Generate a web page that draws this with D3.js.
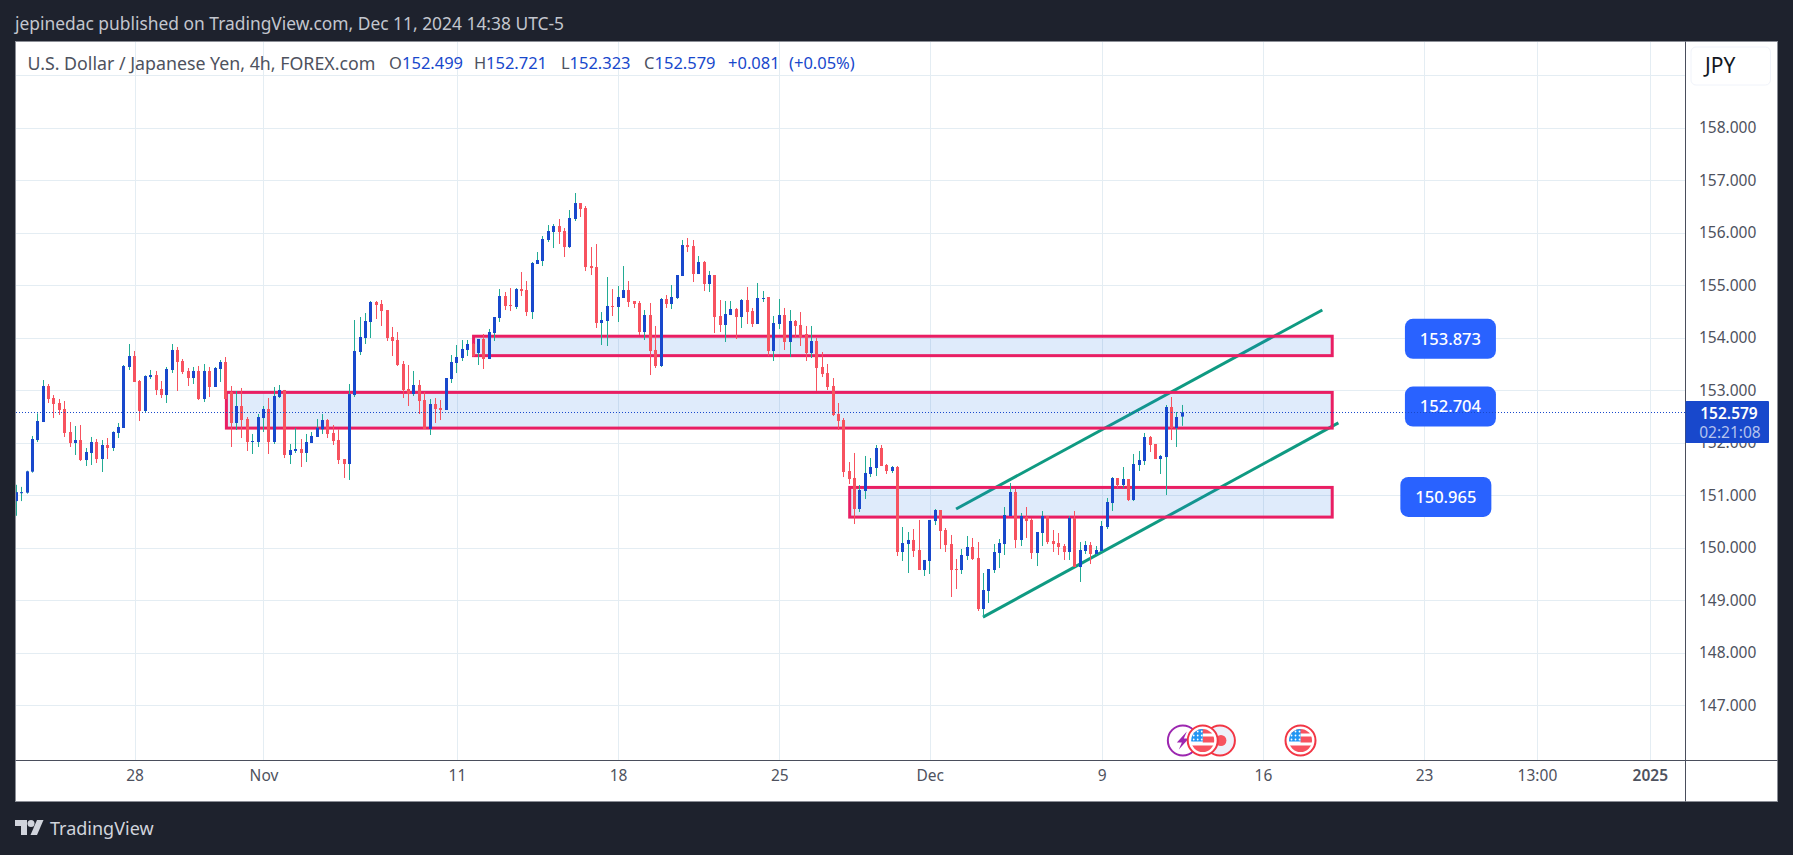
<!DOCTYPE html>
<html>
<head>
<meta charset="utf-8">
<script src="https://cdnjs.cloudflare.com/ajax/libs/d3/7.9.0/d3.min.js"></script>
<style>
  html, body { margin: 0; padding: 0; background: #1e222d; overflow: hidden; }
  text { font-family: "Noto Sans", sans-serif; }
</style>
</head>
<body>
<svg id="chart" width="1793" height="855"></svg>
<script>
// 4h candles, one entry per bar
const opens = [
  150.89,151.04,151.05,151.45,152.053,152.396,153.082,152.853,152.758,152.644,
  152.206,151.996,152.053,151.672,151.806,152.015,151.691,151.958,151.901,152.187,
  152.282,153.444,153.653,153.177,152.606,153.253,153.291,153.025,152.91,153.387,
  153.768,153.558,153.368,153.234,153.368,152.834,153.368,153.063,153.406,153.539,
  152.968,152.377,152.701,152.453,152.015,152.015,152.472,152.644,152.015,152.872,
  153.006,151.768,151.844,151.882,151.806,151.996,152.111,152.257,152.434,152.187,
  152.053,151.691,151.596,152.91,153.73,153.996,154.301,154.682,154.644,154.529,
  154.015,153.958,153.501,153.025,152.929,153.101,152.815,152.263,152.739,152.663,
  152.625,153.215,153.52,153.615,153.768,153.882,153.71,153.977,153.596,154.091,
  154.377,154.796,154.625,154.587,154.929,154.91,154.491,155.406,155.463,155.863,
  156.015,156.129,156.034,155.729,156.263,156.567,156.472,155.367,155.348,154.282,
  154.32,154.606,154.587,154.758,154.91,154.701,154.663,154.11,154.434,153.768,
  153.463,154.739,154.644,154.758,155.177,155.767,155.748,155.215,155.444,155.025,
  155.196,154.415,154.244,154.434,154.548,154.396,154.72,154.51,154.263,154.739,
  154.777,153.748,154.263,154.434,153.92,154.32,154.244,154.072,153.71,153.939,
  153.444,153.329,153.082,152.548,152.434,151.463,151.33,150.739,151.082,151.406,
  151.52,151.901,151.577,151.463,151.539,149.92,150.072,150.149,149.958,149.577,
  149.749,150.51,150.72,150.339,150.072,149.596,149.577,149.844,150.015,149.806,
  148.834,149.177,149.577,149.901,150.072,150.606,151.063,150.149,150.587,150.53,
  149.901,150.282,150.606,150.129,150.091,150.034,149.92,150.568,149.634,149.939,
  150.053,149.882,149.939,150.396,150.853,151.329,151.196,151.31,150.91,151.577,
  151.653,152.11,151.977,151.691,151.729,152.682,152.282,152.499
];
const highs = [
  151.2,151.16,151.469,152.13,152.561,153.196,153.12,152.91,152.834,152.796,
  152.396,152.32,152.339,151.901,152.111,152.072,152.053,152.091,152.218,152.377,
  153.482,153.882,153.749,153.196,153.285,153.387,153.368,153.177,153.444,153.882,
  153.825,153.596,153.425,153.444,153.463,153.501,153.444,153.444,153.577,153.634,
  153.082,152.987,153.044,152.491,152.168,152.549,152.701,152.853,153.063,153.101,
  153.006,151.977,152.282,152.072,152.168,152.206,152.453,152.549,152.453,152.339,
  152.257,151.691,153.12,154.339,154.396,154.472,154.701,154.701,154.72,154.529,
  154.206,154.11,153.558,153.482,153.368,153.196,152.968,152.834,152.853,152.815,
  153.234,153.672,153.863,153.958,153.958,153.9,153.977,154.072,154.168,154.396,
  154.929,154.872,154.948,154.948,155.253,155.082,155.444,155.634,155.939,156.148,
  156.167,156.263,156.091,156.434,156.758,156.567,156.51,155.729,155.786,154.491,
  155.158,154.929,154.987,155.367,155.082,154.701,154.701,154.529,154.663,154.225,
  154.758,154.815,155.006,155.196,155.863,155.901,155.863,155.558,155.463,155.272,
  155.196,154.72,154.701,154.701,154.568,154.739,154.967,154.568,155.044,154.891,
  154.777,154.415,154.739,154.568,154.529,154.339,154.491,154.225,154.225,153.996,
  153.729,153.501,153.234,152.758,152.472,151.634,151.806,151.196,151.749,151.71,
  151.958,151.958,151.596,151.558,151.558,150.396,150.301,150.358,150.53,149.768,
  150.53,150.739,150.72,150.377,150.244,149.787,149.977,150.225,150.187,150.11,
  149.52,149.596,150.072,150.167,150.777,151.234,151.12,150.663,150.777,150.568,
  150.301,150.701,150.606,150.339,150.282,150.072,150.606,150.701,150.11,150.129,
  150.11,150.034,150.51,150.949,151.348,151.329,151.539,151.31,151.787,151.844,
  152.187,152.129,151.977,151.768,152.72,152.872,152.587,152.721
];
const lows = [
  150.61,150.89,151.031,151.431,152.015,152.396,152.758,152.472,152.53,152.111,
  151.92,151.768,151.653,151.558,151.577,151.615,151.444,151.691,151.844,152.091,
  152.282,153.387,153.158,152.415,152.587,153.215,152.91,152.853,152.758,153.33,
  152.987,153.31,153.082,153.12,152.815,152.777,152.872,153.063,153.158,152.834,
  151.92,152.244,152.091,151.844,151.787,151.92,152.206,151.787,151.977,152.853,
  151.71,151.596,151.806,151.539,151.634,151.996,152.111,152.168,152.091,151.958,
  151.596,151.33,151.292,152.872,153.672,153.882,153.996,154.358,154.225,153.939,
  153.653,153.463,152.853,152.701,152.891,152.549,152.263,152.149,152.377,152.434,
  152.625,153.139,153.329,153.558,153.653,153.64,153.482,153.406,153.596,153.939,
  154.301,154.529,154.51,154.548,154.796,154.415,154.358,155.406,155.367,155.825,
  155.71,155.787,155.539,155.71,156.225,156.301,155.272,155.196,154.187,153.863,
  153.844,154.415,154.301,154.758,154.587,154.568,154.053,153.958,153.291,153.425,
  153.444,154.568,154.548,154.739,155.177,155.634,155.063,155.215,154.891,154.872,
  154.091,154.11,153.92,154.434,153.977,154.187,154.263,154.206,154.263,154.682,
  153.653,153.558,154.168,153.768,153.634,153.996,153.844,153.558,153.615,152.987,
  153.253,153.006,152.51,152.244,151.348,151.215,150.453,150.682,150.93,151.348,
  151.368,151.558,151.406,151.425,149.844,149.749,149.52,149.825,149.577,149.463,
  149.501,150.434,149.977,149.92,149.063,149.215,149.501,149.768,149.768,148.796,
  148.663,148.949,149.52,149.615,149.863,150.606,149.996,150.034,150.187,149.787,
  149.653,150.034,150.072,149.92,149.863,149.768,149.768,149.634,149.349,149.882,
  149.691,149.863,149.92,150.358,150.701,151.139,151.139,150.891,150.891,151.463,
  151.577,151.825,151.691,151.406,151.006,152.053,151.92,152.323
];
const closes = [
  151.06,151.06,151.457,152.072,152.415,153.082,152.834,152.739,152.625,152.187,
  151.996,152.053,151.672,151.825,152.015,151.691,151.958,151.901,152.206,152.301,
  153.463,153.653,153.158,152.606,153.272,153.291,153.006,152.91,153.406,153.768,
  153.539,153.349,153.234,153.368,152.834,153.368,153.063,153.425,153.539,152.834,
  152.377,152.701,152.434,152.015,152.034,152.491,152.644,152.015,152.891,153.006,
  151.768,151.863,151.882,151.806,152.015,152.13,152.288,152.434,152.168,152.034,
  151.672,151.596,152.929,153.749,154.015,154.32,154.682,154.625,154.51,153.996,
  153.939,153.482,153.006,152.929,153.101,152.796,152.263,152.739,152.644,152.625,
  153.234,153.539,153.634,153.787,153.882,153.653,153.977,153.596,154.11,154.396,
  154.796,154.606,154.606,154.929,154.891,154.491,155.425,155.482,155.882,156.034,
  156.129,156.015,155.729,156.282,156.567,156.453,155.348,155.329,154.282,154.339,
  154.606,154.587,154.777,154.91,154.682,154.644,154.11,154.434,153.748,153.463,
  154.739,154.644,154.777,155.196,155.767,155.729,155.215,155.444,155.025,155.196,
  154.396,154.244,154.453,154.548,154.396,154.72,154.491,154.263,154.758,154.758,
  153.748,154.282,154.434,153.92,154.32,154.225,154.015,153.71,153.939,153.425,
  153.31,153.063,152.529,152.415,151.444,151.31,150.739,151.101,151.425,151.539,
  151.901,151.558,151.463,151.539,149.92,150.091,150.149,149.939,149.577,149.768,
  150.53,150.72,150.32,150.053,149.577,149.577,149.863,150.015,149.787,148.834,
  149.196,149.596,149.92,150.091,150.625,151.063,150.149,150.606,150.51,149.901,
  150.301,150.606,150.11,150.072,150.015,149.92,150.568,149.634,149.958,150.053,
  149.882,149.958,150.415,150.872,151.329,151.196,151.31,150.91,151.596,151.672,
  152.11,151.958,151.691,151.749,152.682,152.282,152.491,152.579
];

const priceTicks = [147, 148, 149, 150, 151, 152, 153, 154, 155, 156, 157, 158];
const gridPrices = [147, 148, 149, 150, 151, 152, 153, 154, 155, 156, 157, 158, 159];
const timeTickBars = [22, 46, 82, 112, 142, 170, 202, 232, 262, 283, 304];
const timeLabels = ["28", "Nov", "11", "18", "25", "Dec", "9", "16", "23", "13:00", "2025"];

const lastPrice = 152.579;

// drawn zones [price top, price bottom]
const zoneTops = [154.03, 152.96, 151.15];
const zoneBottoms = [153.66, 152.28, 150.585];
const zoneStartBars = [85.1, 39.1, 155.1];
const zoneEndBar = 244.9;
const zoneLabels = ["153.873", "152.704", "150.965"];
const zoneLabelPrices = [153.98, 152.69, 150.97];
const zoneLabelBars = [266.9, 266.9, 266.05];

// channel lines
const channelBars = [[174.9, 243.06], [179.9, 246.05]];
const channelPrices = [[150.74, 154.53], [148.68, 152.38]];

const width = 1793, height = 855;
const pane = { left: 16, top: 42, right: 1685, bottom: 760 };
const frame = { left: 15.5, top: 41.5, right: 1777.5, bottom: 801.5 };

const BLUE = "#1848cc", TEAL = "#22ab94", RED = "#f7525f", PINK = "#e91e63";
const GRID = "#e4edf3", AXIS = "#4a4e5c", LABEL = "#4e525e";

const x = d3.scaleLinear().domain([0, 217]).range([16.3, 1182.3]);
const y = d3.scaleLinear().domain([157, 151]).range([180.3, 495.3]);

const svg = d3.select("#chart");

svg.append("rect").attr("width", width).attr("height", height).attr("fill", "#1e222d");

svg.append("text")
  .attr("x", 15).attr("y", 24)
  .attr("dy", "0.35em")
  .attr("font-size", 17.4)
  .attr("fill", "#c3c6ce")
  .text("jepinedac published on TradingView.com, Dec 11, 2024 14:38 UTC-5");

svg.append("rect")
  .attr("x", frame.left).attr("y", frame.top)
  .attr("width", frame.right - frame.left).attr("height", frame.bottom - frame.top)
  .attr("fill", "#fff")
  .attr("stroke", "#8b8e96");

svg.append("defs").append("clipPath").attr("id", "pane-clip")
  .append("rect")
  .attr("x", pane.left).attr("y", pane.top)
  .attr("width", pane.right - pane.left).attr("height", pane.bottom - pane.top);

const plot = svg.append("g").attr("clip-path", "url(#pane-clip)");

// grid
plot.selectAll(".grid-h").data(gridPrices).enter().append("line")
  .attr("x1", pane.left).attr("x2", pane.right)
  .attr("y1", d => Math.round(y(d)) + 0.5).attr("y2", d => Math.round(y(d)) + 0.5)
  .attr("stroke", GRID);
plot.selectAll(".grid-v").data(timeTickBars).enter().append("line")
  .attr("x1", d => Math.round(x(d)) + 0.5).attr("x2", d => Math.round(x(d)) + 0.5)
  .attr("y1", pane.top).attr("y2", pane.bottom)
  .attr("stroke", GRID);

// channel lines go under the zones
channelBars.forEach((bars, k) => {
  plot.append("line")
    .attr("x1", x(bars[0])).attr("y1", y(channelPrices[k][0]))
    .attr("x2", x(bars[1])).attr("y2", y(channelPrices[k][1]))
    .attr("stroke", "#0f9a82")
    .attr("stroke-width", 3);
});

// zones
zoneTops.forEach((top, k) => {
  plot.append("rect")
    .attr("x", x(zoneStartBars[k])).attr("y", y(top))
    .attr("width", x(zoneEndBar) - x(zoneStartBars[k]))
    .attr("height", y(zoneBottoms[k]) - y(top))
    .attr("fill", "#2979e6").attr("fill-opacity", 0.15)
    .attr("stroke", PINK).attr("stroke-width", 3);
});

// candles
const bars = d3.range(opens.length);
plot.selectAll(".wick").data(bars).enter().append("rect")
  .attr("x", i => Math.round(x(i) - 0.5))
  .attr("y", i => y(highs[i]))
  .attr("width", 1)
  .attr("height", i => y(lows[i]) - y(highs[i]))
  .attr("fill", i => closes[i] >= opens[i] ? TEAL : RED);
plot.selectAll(".body").data(bars).enter().append("rect")
  .attr("x", i => Math.round(x(i) - 1.5))
  .attr("y", i => y(Math.max(opens[i], closes[i])))
  .attr("width", 3)
  .attr("height", i => Math.max(1, Math.abs(y(opens[i]) - y(closes[i]))))
  .attr("fill", i => closes[i] >= opens[i] ? BLUE : RED);

// zone value tags
const tags = svg.append("g");
zoneLabels.forEach((label, k) => {
  const cx = x(zoneLabelBars[k]), cy = y(zoneLabelPrices[k]);
  tags.append("rect")
    .attr("x", cx - 45.5).attr("y", cy - 20)
    .attr("width", 91).attr("height", 40)
    .attr("rx", 8)
    .attr("fill", "#2962ff");
  tags.append("text")
    .attr("x", cx).attr("y", cy)
    .attr("dy", "0.35em")
    .attr("text-anchor", "middle")
    .attr("font-size", 16.5).attr("font-weight", 500)
    .attr("fill", "#fff")
    .text(label);
});

// last price line
svg.append("line")
  .attr("x1", pane.left).attr("x2", pane.right)
  .attr("y1", Math.round(y(lastPrice)) + 0.5).attr("y2", Math.round(y(lastPrice)) + 0.5)
  .attr("stroke", BLUE)
  .attr("stroke-dasharray", "1 2");

// event icons along the bottom
const iconY = 740.5;
function flagIcon(bar) {
  const g = svg.append("g").attr("transform", `translate(${x(bar)},${iconY})`);
  g.append("circle").attr("r", 15).attr("fill", "#fff").attr("stroke", "#f23645").attr("stroke-width", 2);
  const id = "flag-" + bar;
  g.append("clipPath").attr("id", id).append("circle").attr("r", 11.5);
  const f = g.append("g").attr("clip-path", `url(#${id})`);
  f.append("rect").attr("x", -12).attr("y", -12).attr("width", 24).attr("height", 5).attr("fill", "#f7525f");
  f.append("rect").attr("x", 0).attr("y", -4).attr("width", 12).attr("height", 6).attr("fill", "#f7525f");
  f.append("rect").attr("x", -12).attr("y", 5).attr("width", 24).attr("height", 7).attr("fill", "#f7525f");
  f.append("rect").attr("x", -12).attr("y", -12).attr("width", 12).attr("height", 13).attr("fill", "#2196f3");
  [-9, -5, -1].forEach(px => [-8, -4, 0].forEach(py => {
    f.append("circle").attr("cx", px).attr("cy", py - 1).attr("r", 0.9).attr("fill", "#fff");
  }));
}
const purple = svg.append("g").attr("transform", `translate(${x(217.1)},${iconY})`);
purple.append("circle").attr("r", 15).attr("fill", "#fff").attr("stroke", "#9c27b0").attr("stroke-width", 2);
purple.append("path").attr("d", "M4,-9 L-6,2 L-1,2 L-4,9 L6,-2 L1,-2 Z").attr("fill", "#9c27b0");
const moon = svg.append("g").attr("transform", `translate(${x(224)},${iconY})`);
moon.append("circle").attr("r", 15).attr("fill", "#eef0fa").attr("stroke", "#f23645").attr("stroke-width", 2);
moon.append("circle").attr("cx", 1).attr("r", 5.5).attr("fill", "#f7525f");
flagIcon(220.8);
flagIcon(239);

// axes
svg.append("line").attr("x1", 15.5).attr("x2", frame.right).attr("y1", 760.5).attr("y2", 760.5).attr("stroke", AXIS);
svg.append("line").attr("x1", 1685.5).attr("x2", 1685.5).attr("y1", frame.top).attr("y2", frame.bottom).attr("stroke", AXIS);

const yAxis = d3.axisRight(y).tickValues(priceTicks).tickFormat(d3.format(".3f")).tickSize(0).tickPadding(0);
const yAxisG = svg.append("g").attr("transform", "translate(1699,0)").call(yAxis);
yAxisG.select(".domain").remove();
yAxisG.selectAll("text").attr("font-size", 15.5).attr("font-family", "'Noto Sans', sans-serif").attr("fill", LABEL);

const xAxis = d3.axisBottom(x).tickValues(timeTickBars).tickFormat((d, i) => timeLabels[i]).tickSize(0).tickPadding(0);
const xAxisG = svg.append("g").attr("transform", "translate(0,770)").call(xAxis);
xAxisG.select(".domain").remove();
xAxisG.selectAll("text").attr("font-size", 15.5).attr("font-family", "'Noto Sans', sans-serif").attr("fill", LABEL);
xAxisG.selectAll("text").filter((d, i) => timeLabels[i] === "2025").attr("font-weight", 600);

// last price tag
svg.append("rect")
  .attr("x", 1685.5).attr("y", 401).attr("width", 83.5).attr("height", 42).attr("rx", 1)
  .attr("fill", BLUE);
svg.append("text").attr("x", 1729).attr("y", 413.5).attr("dy", "0.35em")
  .attr("text-anchor", "middle").attr("font-size", 15.5).attr("font-weight", 600).attr("fill", "#fff")
  .text("152.579");
svg.append("text").attr("x", 1730).attr("y", 432.5).attr("dy", "0.35em")
  .attr("text-anchor", "middle").attr("font-size", 15.5).attr("fill", "#b4c3ee")
  .text("02:21:08");

// currency button
svg.append("rect")
  .attr("x", 1691).attr("y", 47).attr("width", 79.5).attr("height", 38).attr("rx", 5)
  .attr("fill", "#fff").attr("stroke", "#f0f3fa");
svg.append("text").attr("x", 1705).attr("y", 66).attr("dy", "0.35em")
  .attr("font-size", 21).attr("fill", "#131722").text("JPY");

// legend row
const legend = [
  ["U.S. Dollar / Japanese Yen, 4h, FOREX.com", 27.5, "#4e525e", 17.8],
  ["O", 389, "#4e525e", 16.5], ["152.499", 402, BLUE, 16.5],
  ["H", 474, "#4e525e", 16.5], ["152.721", 486, BLUE, 16.5],
  ["L", 561, "#4e525e", 16.5], ["152.323", 569.5, BLUE, 16.5],
  ["C", 644, "#4e525e", 16.5], ["152.579", 654.5, BLUE, 16.5],
  ["+0.081", 728, BLUE, 16.5], ["(+0.05%)", 789, BLUE, 16.5]
];
legend.forEach(d => {
  svg.append("text").attr("x", d[1]).attr("y", 63.5).attr("dy", "0.35em")
    .attr("font-size", d[3]).attr("fill", d[2]).text(d[0]);
});

// footer logo
const logo = svg.append("g").attr("fill", "#d1d4dc");
logo.append("path").attr("d", "M15,820 H27 V835 H21 V826 H15 Z");
logo.append("circle").attr("cx", 31).attr("cy", 823.5).attr("r", 3.5);
logo.append("path").attr("d", "M37,820 H43.5 L37,835 H30.5 Z");
svg.append("text").attr("x", 50).attr("y", 829).attr("dy", "0.35em")
  .attr("font-size", 18).attr("fill", "#d1d4dc").text("TradingView");
</script>
</body>
</html>
